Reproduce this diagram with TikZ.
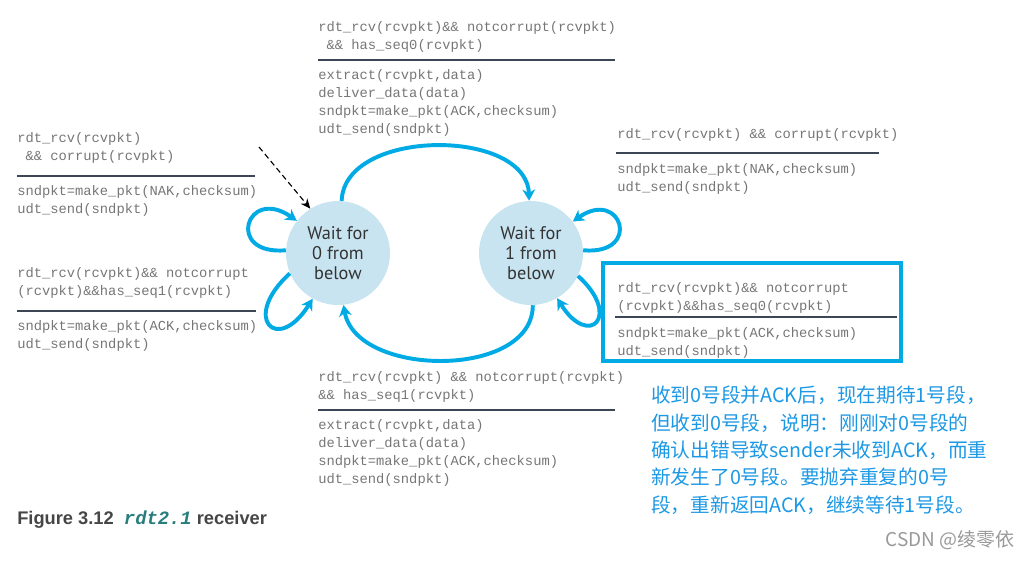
\documentclass[tikz,border=0pt]{standalone}
\usepackage{fontspec}
\setmainfont{Liberation Sans}
\setmonofont{Liberation Mono}
\newfontfamily\statefont{PT Sans}
\newfontfamily\cjk{Noto Sans CJK SC}
\usetikzlibrary{arrows.meta}
\definecolor{arcblue}{RGB}{0,170,228}
\definecolor{statefill}{RGB}{200,228,241}
\definecolor{codegray}{RGB}{118,118,118}
\definecolor{rulegray}{RGB}{60,70,85}
\definecolor{notecyan}{RGB}{28,152,228}
\definecolor{captext}{RGB}{70,70,70}
\definecolor{capteal}{RGB}{40,125,125}
\tikzset{
  state/.style={circle, fill=statefill, minimum size=104*0.025cm, inner sep=0pt,
    align=center, font=\statefont\fontsize{13}{14}\selectfont, text=black!80},
  code/.style={anchor=north west, inner sep=0pt, align=left, text=codegray,
    font=\ttfamily\fontsize{9.8}{12.8}\selectfont},
  bar/.style={draw=rulegray, line width=0.8pt},
  trans/.style={draw=arcblue, line width=2.8pt, -{Stealth[length=8pt,width=9pt,inset=2.5pt]}},
}
\begin{document}
\begin{tikzpicture}[x=0.025cm, y=-0.025cm]
		\useasboundingbox (0,0) rectangle (1032,560);
		% states
		\node[state] (w0) at (338,253) {Wait for\\0 from\\below};
		\node[state] (w1) at (531,253) {Wait for\\1 from\\below};
		% transitions between states
		\draw[trans] (w0.86) to[out=88, in=92] (w1.92);
		\draw[trans] (w1.-88) to[out=-90, in=-80] (w0.-84);
		% self loops
		\draw[trans] (w0.177) to[out=185, in=145, looseness=5] (w0.142);
		\draw[trans] (w0.203) to[out=222, in=238, looseness=5] (w0.241);
		\draw[trans] (w1.3) to[out=-5, in=35, looseness=5] (w1.37);
		\draw[trans] (w1.-26) to[out=-42, in=-58, looseness=5] (w1.-60);
		% initial arrow
		\coordinate (init) at (259,147);
		\draw[dash pattern=on 4pt off 2.5pt, line width=0.8pt, -{Stealth[length=7pt,width=6pt]}] (init) -- (w0.122);
		% top label
		\node[code] (gtop) at (318,21) {rdt\_rcv(rcvpkt)\&\& notcorrupt(rcvpkt)\\~\&\& has\_seq0(rcvpkt)};
		\draw[bar] (318,60) -- (615,60);
		\node[code] (atop) at (318,69) {extract(rcvpkt,data)\\deliver\_data(data)\\sndpkt=make\_pkt(ACK,checksum)\\udt\_send(sndpkt)};
		% left upper label
		\node[code] (gleftup) at (17,132) {rdt\_rcv(rcvpkt)\\~\&\& corrupt(rcvpkt)};
		\draw[bar] (17,176) -- (255,176);
		\node[code] (aleftup) at (17,185) {sndpkt=make\_pkt(NAK,checksum)\\udt\_send(sndpkt)};
		% left lower label
		\node[code] (gleftlo) at (17,267) {rdt\_rcv(rcvpkt)\&\& notcorrupt\\(rcvpkt)\&\&has\_seq1(rcvpkt)};
		\draw[bar] (17,311) -- (256,311);
		\node[code] (aleftlo) at (17,320) {sndpkt=make\_pkt(ACK,checksum)\\udt\_send(sndpkt)};
		% right upper label
		\node[code] (grightup) at (617,128) {rdt\_rcv(rcvpkt) \&\& corrupt(rcvpkt)};
		\draw[bar] (616,153) -- (879,153);
		\node[code] (arightup) at (617,163) {sndpkt=make\_pkt(NAK,checksum)\\udt\_send(sndpkt)};
		% right lower label, framed
		\draw[arcblue, line width=2.8pt] (603,263) rectangle (901,361);
		\node[code] (grightlo) at (617,282) {rdt\_rcv(rcvpkt)\&\& notcorrupt\\(rcvpkt)\&\&has\_seq0(rcvpkt)};
		\draw[bar] (615,317) -- (897,317);
		\node[code] (arightlo) at (617,327) {sndpkt=make\_pkt(ACK,checksum)\\udt\_send(sndpkt)};
		% bottom label
		\node[code] (gbot) at (318,371) {rdt\_rcv(rcvpkt) \&\& notcorrupt(rcvpkt)\\\&\& has\_seq1(rcvpkt)};
		\draw[bar] (318,410) -- (615,410);
		\node[code] (abot) at (318,419) {extract(rcvpkt,data)\\deliver\_data(data)\\sndpkt=make\_pkt(ACK,checksum)\\udt\_send(sndpkt)};
		% note
		\node[anchor=north west, inner sep=0pt, align=left, text=notecyan,
		      font=\cjk\fontsize{14}{19.4}\selectfont] (note) at (651,386)
		      {收到0号段并ACK后，现在期待1号段，\\但收到0号段，说明：刚刚对0号段的\\确认出错导致sender未收到ACK，而重\\新发生了0号段。要抛弃重复的0号\\段，重新返回ACK，继续等待1号段。};
		% caption
		\node[anchor=west, inner sep=0pt, text=captext, font=\bfseries\fontsize{13}{15}\selectfont] (cap) at (17,520)
		      {Figure 3.12\ \ {\color{capteal}\ttfamily\itshape\fontsize{13.4}{15}\selectfont rdt2.1} receiver};
		\node[anchor=east, inner sep=0pt, text=black!40, font=\cjk\fontsize{13.5}{15}\selectfont] (mark) at (1015,540) {CSDN @绫零依};
	\end{tikzpicture}
\end{document}
